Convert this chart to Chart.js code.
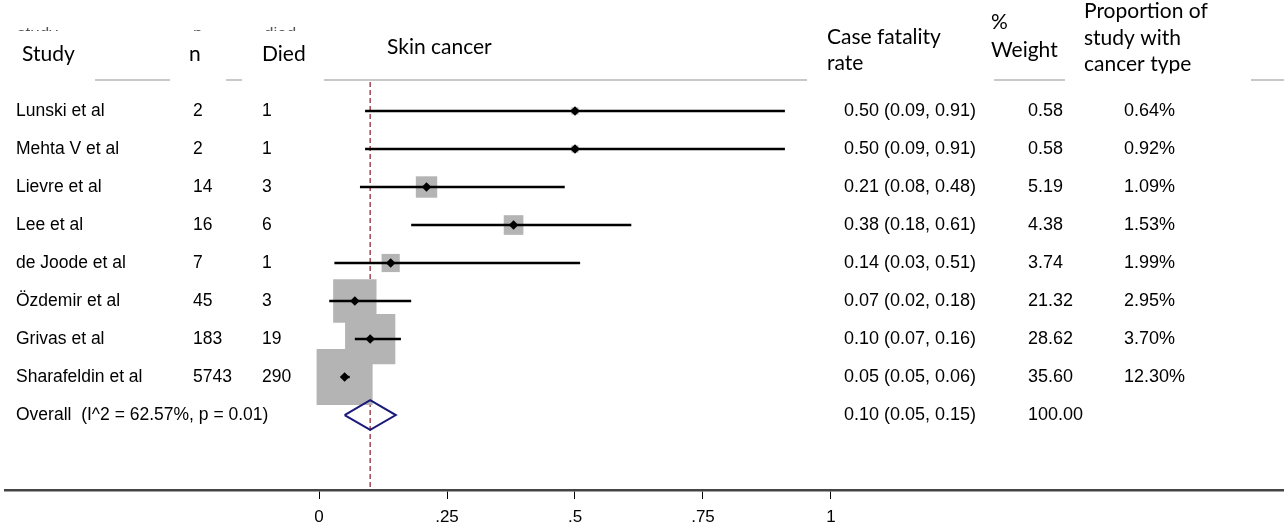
<!DOCTYPE html>
<html><head><meta charset="utf-8">
<script src="https://cdn.jsdelivr.net/npm/chart.js@4/dist/chart.umd.min.js"></script>
<style>html,body{margin:0;padding:0;background:#fff;overflow:hidden}</style>
</head><body>
<canvas id="c" width="1284" height="529"></canvas>
<script>
// ---- data ----
const studies = ["Lunski et al","Mehta V et al","Lievre et al","Lee et al","de Joode et al","Özdemir et al","Grivas et al","Sharafeldin et al"];
const nTotal = ["2","2","14","16","7","45","183","5743"];
const nDied = ["1","1","3","6","1","3","19","290"];
const estimate = [0.50,0.50,0.21,0.38,0.14,0.07,0.10,0.05];
const ciLow = [0.09,0.09,0.08,0.18,0.03,0.02,0.07,0.05];
const ciHigh = [0.91,0.91,0.48,0.61,0.51,0.18,0.16,0.06];
const weights = [0.58,0.58,5.19,4.38,3.74,21.32,28.62,35.60];
const cfrText = ["0.50 (0.09, 0.91)","0.50 (0.09, 0.91)","0.21 (0.08, 0.48)","0.38 (0.18, 0.61)","0.14 (0.03, 0.51)","0.07 (0.02, 0.18)","0.10 (0.07, 0.16)","0.05 (0.05, 0.06)"];
const weightText = ["0.58","0.58","5.19","4.38","3.74","21.32","28.62","35.60"];
const proportion = ["0.64%","0.92%","1.09%","1.53%","1.99%","2.95%","3.70%","12.30%"];
const overallLabel = "Overall  (I^2 = 62.57%, p = 0.01)";
const overallEst = 0.10, overallLow = 0.05, overallHigh = 0.15;
const overallCfrText = "0.10 (0.05, 0.15)";
const overallWeightText = "100.00";
const xTicks = [0, 0.25, 0.5, 0.75, 1];
const xTickLabels = ["0", ".25", ".5", ".75", "1"];

// ---- build datasets ----
const overallRow = studies.length;
const boxScale = 6.64;
const datasets = [];
datasets.push({ type:'line', data:[{x:overallEst,y:-0.76},{x:overallEst,y:10.1}],
  borderColor:'#a8505c', borderWidth:1.6, borderDash:[5,3], pointRadius:0, order:4 });
datasets.push({ type:'scatter', data:studies.map((s,i)=>({x:estimate[i],y:i})),
  pointStyle:'rect', pointRadius:studies.map((s,i)=>boxScale*Math.sqrt(weights[i])),
  backgroundColor:'#b4b4b4', borderWidth:0, order:3 });
studies.forEach((s,i)=>{
  datasets.push({ type:'line', data:[{x:ciLow[i],y:i},{x:ciHigh[i],y:i}],
    borderColor:'#000', borderWidth:2.4, pointRadius:0, order:2 });
});
datasets.push({ type:'scatter', data:studies.map((s,i)=>({x:estimate[i],y:i})),
  pointStyle:'rectRot', pointRadius:4.8, backgroundColor:'#000', borderWidth:0, order:1 });
datasets.push({ type:'line', data:[
    {x:overallLow,y:overallRow},{x:overallEst,y:overallRow-0.39},
    {x:overallHigh,y:overallRow},{x:overallEst,y:overallRow+0.39},{x:overallLow,y:overallRow}],
  borderColor:'#1a1a7a', borderWidth:2, pointRadius:0, fill:false, order:1 });

// ---- text plugin ----
const textPlugin = {
  id:'forestText',
  afterDraw(chart){
    const ctx = chart.ctx, y = chart.scales.y;
    ctx.save();
    ctx.fillStyle = '#000';
    ctx.textBaseline = 'middle';
    ctx.textAlign = 'left';
    const bodyLeft = '17.5px "Liberation Sans", Arial, sans-serif';
    const bodyRight = '18px "Liberation Sans", Arial, sans-serif';
    studies.forEach((s,i)=>{
      const py = y.getPixelForValue(i);
      ctx.font = bodyLeft;
      ctx.fillText(s, 16, py);
      ctx.fillText(nTotal[i], 193, py);
      ctx.fillText(nDied[i], 262, py);
      ctx.font = bodyRight;
      ctx.fillText(cfrText[i], 844, py);
      ctx.fillText(weightText[i], 1028, py);
      ctx.fillText(proportion[i], 1124, py);
    });
    const oy = y.getPixelForValue(overallRow);
    ctx.font = bodyLeft;
    ctx.fillText(overallLabel, 16, oy);
    ctx.font = bodyRight;
    ctx.fillText(overallCfrText, 844, oy);
    ctx.fillText(overallWeightText, 1028, oy);

    // ghost header (mostly hidden)
    ctx.save();
    ctx.beginPath(); ctx.rect(0, 27, 400, 4); ctx.clip();
    ctx.font = '17px "Liberation Sans", Arial, sans-serif';
    ctx.textBaseline = 'top';
    ctx.fillStyle = '#555';
    ctx.fillText('study', 17, 26);
    ctx.fillText('n', 193, 26);
    ctx.fillText('died', 264, 26);
    ctx.restore();

    // headers
    ctx.font = '21px Lato, "Open Sans", sans-serif';
    ctx.textBaseline = 'middle';
    ctx.fillText('Study', 22, 54);
    ctx.fillText('n', 189, 54);
    ctx.fillText('Died', 262, 54);
    ctx.fillText('Skin cancer', 387, 47);
    ctx.fillText('Case fatality', 827, 37);
    ctx.fillText('rate', 827, 63);
    ctx.fillText('%', 991, 22);
    ctx.fillText('Weight', 991, 50);
    ctx.fillText('Proportion of', 1084, 11);
    ctx.fillText('study with', 1084, 38);
    ctx.save();
    ctx.beginPath(); ctx.rect(1080, 50, 204, 23.5); ctx.clip();
    ctx.fillText('cancer type', 1084, 64);
    ctx.restore();

    // header rules
    ctx.strokeStyle = '#c8c8c8';
    ctx.lineWidth = 2;
    [[95,170],[226,242],[324,807],[994,1065],[1251,1284]].forEach(([a,b])=>{
      ctx.beginPath(); ctx.moveTo(a,80); ctx.lineTo(b,80); ctx.stroke();
    });
    ctx.restore();
  }
};

new Chart(document.getElementById('c'), {
  type:'scatter',
  data:{ datasets },
  options:{
    responsive:false, animation:false, events:[],
    layout:{ autoPadding:false, padding:{left:5,right:0,top:0,bottom:0} },
    plugins:{ legend:{display:false}, tooltip:{enabled:false} },
    scales:{
      x:{ type:'linear', min:-0.6133, max:1.8848,
        afterBuildTicks:(sc)=>{ sc.ticks = xTicks.map(v=>({value:v})); },
        afterFit:(sc)=>{ sc.height = 39; sc.paddingLeft = 0; sc.paddingRight = 0; },
        ticks:{ autoSkip:false, maxRotation:0, padding:8, color:'#000',
          font:{ family:'"Liberation Sans", Arial, sans-serif', size:17 },
          callback:(v,i)=>xTickLabels[i] },
        grid:{ drawOnChartArea:false, drawTicks:true, tickLength:9, tickColor:'#000', tickWidth:1 },
        border:{ display:true, color:'#444', width:2.5 }
      },
      y:{ type:'linear', display:false, reverse:true, min:-2.921, max:9.973 }
    }
  },
  plugins:[textPlugin]
});
</script>
</body></html>
